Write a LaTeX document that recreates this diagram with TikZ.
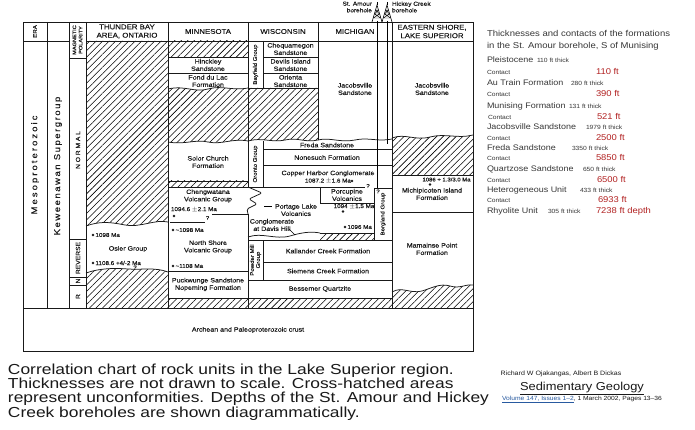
\documentclass[tikz,border=0pt]{standalone}
\usepackage{fontspec}
\setmainfont{Liberation Sans}[FakeStretch=1.12]
\newfontfamily\chfont{Liberation Sans}[FakeStretch=1.12,FakeBold=0.15]
\newfontfamily\capfont{Liberation Sans}[FakeStretch=1.2]
\usetikzlibrary{patterns.meta}
\definecolor{redval}{RGB}{178,34,34}
\definecolor{txtgray}{RGB}{55,55,55}
\definecolor{linkblue}{RGB}{40,90,160}
\definecolor{ink}{RGB}{25,25,25}
\begin{document}
\begin{tikzpicture}[x=1pt,y=-1pt,
  every node/.style={inner sep=0pt, outer sep=0pt, text=ink},
  lbl/.style={font=\chfont\fontsize{6.3}{7.4}\selectfont, align=center},
  dat/.style={font=\chfont\fontsize{5.6}{6}\selectfont, anchor=west},
  hdr/.style={font=\chfont\fontsize{7}{8.4}\selectfont, align=center},
  hatch/.style={pattern={Lines[angle=45,distance=4.6pt,line width=0.55pt]}},
  ln/.style={line width=0.75pt, draw=ink},
  dotm/.style={circle, fill=ink, inner sep=0pt, minimum size=2.6pt},
  rowf/.style={font=\fontsize{8}{9}\selectfont, anchor=base west, text=txtgray},
  small/.style={font=\fontsize{6}{7}\selectfont, anchor=base west, text=txtgray},
  redv/.style={font=\fontsize{8.4}{9}\selectfont, anchor=base west, text=redval},
  capt/.style={font=\capfont\fontsize{14.5}{14.5}\selectfont, anchor=base west},
]
\useasboundingbox (0,0) rectangle (695,430);
\fill[white] (0,0) rectangle (695,430);

% ---------- hatched unconformities ----------
\fill[hatch] (86,41) -- (168,41) -- (168,222) .. controls (155,219) and (140,228) .. (125,225) .. controls (110,222) and (100,221) .. (86,226) -- cycle;
\fill[hatch] (86,273) .. controls (100,268) and (115,268) .. (128,269) .. controls (142,270) and (155,267) .. (168,272) -- (168,308) -- (86,308) -- cycle;
\fill[hatch] (168,41) rectangle (248,57);
\fill[hatch] (168,89) .. controls (185,85) and (195,93) .. (208,89) .. controls (222,85) and (232,91) .. (248,88) -- (248,141) .. controls (232,138) and (222,145) .. (208,142) .. controls (195,139) and (185,145) .. (168,142) -- cycle;
\fill[hatch] (248,88) -- (318,88) -- (318,140) .. controls (305,143) and (298,137) .. (285,140) .. controls (272,143) and (262,137) .. (248,141) -- cycle;
\fill[hatch] (168,181) rectangle (248,187);
\fill[hatch] (320,233) rectangle (374,240);
\fill[hatch] (392,138) .. controls (405,133) and (415,141) .. (430,137) .. controls (445,133) and (458,139) .. (473,135) -- (473,175) -- (392,175) -- cycle;
\fill[hatch] (168,298) rectangle (392,308);
\fill[hatch] (392,292) .. controls (402,286) and (410,294) .. (422,291) .. controls (432,288) and (440,283) .. (450,286) .. controls (460,289) and (465,284) .. (473,285) -- (473,308) -- (392,308) -- cycle;

% ---------- frame and columns ----------
\draw[ln] (23,22) rectangle (473,351);
\draw[ln] (23,41) -- (69,41) (86,41) -- (473,41);
\draw[ln] (69,58) -- (86,58);
\draw[ln] (47,22) -- (47,308) (69,22) -- (69,308) (86,22) -- (86,308) (168,22) -- (168,308);
\draw[ln] (248,22) -- (248,187) (248,214) -- (248,308);
\draw[ln] (318,22) -- (318,140);
\draw[ln] (392,22) -- (392,308);
\draw[ln] (23,308) -- (473,308);
\draw[ln] (69,239) -- (86,239) (69,277) -- (86,277) (69,285) -- (86,285);

% waves
\draw[ln] (86,226) .. controls (100,221) and (110,222) .. (125,225) .. controls (140,228) and (155,219) .. (168,222);
\draw[ln] (86,273) .. controls (100,268) and (115,268) .. (128,269) .. controls (142,270) and (155,267) .. (168,272);
\draw[ln] (168,89) .. controls (185,85) and (195,93) .. (208,89) .. controls (222,85) and (232,91) .. (248,88);
\draw[ln] (168,142) .. controls (185,145) and (195,139) .. (208,142) .. controls (222,145) and (232,138) .. (248,141);
\draw[ln] (248,141) .. controls (262,137) and (272,143) .. (285,140) .. controls (298,137) and (305,143) .. (318,140) .. controls (330,137) and (340,143) .. (355,140) .. controls (368,137) and (378,142) .. (392,139);
\draw[ln] (392,138) .. controls (405,133) and (415,141) .. (430,137) .. controls (445,133) and (458,139) .. (473,135);
\draw[ln] (392,292) .. controls (402,286) and (410,294) .. (422,291) .. controls (432,288) and (440,283) .. (450,286) .. controls (460,289) and (465,284) .. (473,285);
\draw[ln] (248,237) .. controls (262,232) and (275,240) .. (290,236) .. controls (300,233) and (310,231) .. (320,233);
\draw[ln, rounded corners=1.5pt] (248,187) -- (262,193) -- (249,199) -- (257,204) -- (247,209) -- (248,214);

% Minnesota boxes
\draw[ln] (168,57) -- (248,57) (168,73) -- (248,73);
\draw[ln] (168,181) -- (248,181) (168,187) -- (248,187);
\draw[ln] (170,222) -- (205,222) (212,214) -- (248,214);
\draw[ln] (168,271) -- (248,271);
\draw[ln] (168,298) -- (392,298);
% Wisconsin / Michigan boxes
\draw[ln] (263,41) -- (263,88) (263,57) -- (318,57) (263,73) -- (318,73) (248,88) -- (318,88);
\draw[ln] (263,141) -- (263,187) (263,149) -- (392,149) (263,165) -- (392,165) (248,187) -- (365,187);
\draw[ln] (320,187) -- (320,203) -- (374,203);
\draw[ln] (374,188) -- (392,188) (374,188) -- (374,240);
\draw[ln] (320,233) -- (374,233);
\draw[ln] (248,240) -- (392,240) (263,240) -- (263,280) (263,262) -- (392,262) (248,280) -- (392,280);
% Eastern shore
\draw[ln] (392,175) -- (473,175) (392,212) -- (473,212);

% boreholes
\coordinate (sa) at (377,21); \coordinate (sab) at (377,188);
\coordinate (hc) at (387,21); \coordinate (hcb) at (387,144);
\draw[line width=0.9pt] (sa) -- (sab);
\draw[line width=0.9pt] (hc) -- (hcb);
\foreach \cx in {377,387}{
  \draw[line width=0.6pt] (\cx-5,22) -- (\cx,5) -- (\cx+5,22);
  \draw[line width=0.45pt] (\cx-3.8,18) -- (\cx+3.8,18) (\cx-2.6,14) -- (\cx+2.6,14) (\cx-1.5,10) -- (\cx+1.5,10)
     (\cx-3.8,18) -- (\cx+2.6,14) (\cx+3.8,18) -- (\cx-2.6,14) (\cx-2.6,14) -- (\cx+1.5,10) (\cx+2.6,14) -- (\cx-1.5,10);
  \draw[line width=0.5pt] (\cx,5) -- (\cx,2.5);
}
\node[font=\chfont\fontsize{5.8}{6.6}\selectfont, align=right, anchor=east] (tsa) at (372,7) {St. Amour\\borehole};
\node[font=\chfont\fontsize{5.8}{6.6}\selectfont, align=left, anchor=west] (thc) at (392,7) {Hickey Creek\\borehole};

% ---------- headers ----------
\node[font=\chfont\fontsize{5.6}{6}\selectfont, rotate=90] (hera) at (35,31.5) {ERA};
\node[font=\chfont\fontsize{5}{6.2}\selectfont, rotate=90, align=center] (hmag) at (77.5,40) {MAGNETIC\\POLARITY};
\node[hdr] (htb) at (127,31.5) {THUNDER BAY\\AREA, ONTARIO};
\node[hdr] (hmn) at (208,31.5) {MINNESOTA};
\node[hdr] (hwi) at (283,31.5) {WISCONSIN};
\node[hdr] (hmi) at (355,31.5) {MICHIGAN};
\node[hdr] (hes) at (432,31.5) {EASTERN SHORE,\\LAKE SUPERIOR};

% left columns
\node[font=\chfont\fontsize{8.5}{9}\selectfont\addfontfeatures{LetterSpace=24}, rotate=90] (meso) at (35,165) {Mesoproterozoic};
\node[font=\chfont\fontsize{8.5}{9}\selectfont\addfontfeatures{LetterSpace=18}, rotate=90] (kew) at (58,166) {Keweenawan Supergroup};
\node[font=\chfont\fontsize{6}{7}\selectfont\addfontfeatures{LetterSpace=30}, rotate=90] (pnorm) at (78,150) {NORMAL};
\node[font=\chfont\fontsize{6}{7}\selectfont, rotate=90] (prev) at (78,258) {REVERSE};
\node[font=\chfont\fontsize{6}{7}\selectfont, rotate=90] (pn) at (78,281) {N};
\node[font=\chfont\fontsize{6}{7}\selectfont, rotate=90] (pr) at (78,296.5) {R};

% Thunder Bay
\node[dotm] (d1) at (93,235) {};
\node[dat] (t1) at (95.5,235) {1098 Ma};
\node[lbl] (osler) at (128,249) {Osler Group};
\node[dotm] (d2) at (93,263) {};
\node[dat] (t2) at (95.5,263) {1108.6 +4/-2 Ma};
\node[dat, anchor=center] (q1) at (135,267.5) {?};

% Minnesota
\node[lbl] (hinck) at (208,65) {Hinckley\\Sandstone};
\node[lbl] (fdl) at (208,81) {Fond du Lac\\Formation};
\node[lbl] (solor) at (208,162) {Solor Church\\Formation};
\node[lbl] (cheng) at (208,196) {Chengwatana\\Volcanic Group};
\node[dat] (t3) at (171,209.5) {1094.6 $\pm$2.1 Ma};
\node[dotm] (d3) at (174,216) {};
\node[dat, anchor=center] (q2) at (207.5,218) {?};
\node[dotm] (d4) at (173,230) {};
\node[dat] (t4) at (175.5,230) {\textasciitilde1098 Ma};
\node[lbl] (nshore) at (208,247) {North Shore\\Volcanic Group};
\node[dotm] (d5) at (173,266) {};
\node[dat] (t5) at (175.5,266) {\textasciitilde1108 Ma};
\node[lbl] (puck) at (208,284.5) {Puckwunge Sandstone\\Nopeming Formation};

% Wisconsin / Michigan
\node[lbl, rotate=90, font=\chfont\fontsize{5.4}{6}\selectfont] (bay) at (255.5,64.5) {Bayfield Group};
\node[lbl] (cheq) at (290.5,49) {Chequamegon\\Sandstone};
\node[lbl] (devil) at (290.5,65) {Devils Island\\Sandstone};
\node[lbl] (orient) at (290.5,81) {Orienta\\Sandstone};
\node[lbl] (jacm) at (355,89) {Jacobsville\\Sandstone};
\node[lbl, rotate=90, font=\chfont\fontsize{5.4}{6}\selectfont] (oronto) at (255.5,164) {Oronto Group};
\node[lbl] (freda) at (327,145) {Freda Sandstone};
\node[lbl] (nones) at (327,157.5) {Nonesuch Formation};
\node[lbl] (copper) at (328,173.5) {Copper Harbor Conglomerate};
\node[dat] (t6) at (305,181) {1087.2 $\pm$1.6 Ma};
\node[dotm] (d6) at (352,181) {};
\node[dat, anchor=center] (q3) at (368,186) {?};
\node[dat, anchor=center] (q4) at (378,191.5) {?};
\node[lbl] (porc) at (347,195) {Porcupine\\Volcanics};
\node[dat, anchor=center] (t7) at (354,206.5) {1094 $\pm$1.5 Ma};
\node[dotm] (d7) at (343,211.5) {};
\node[lbl, rotate=90, font=\chfont\fontsize{5.4}{6}\selectfont] (berg) at (383,214) {Bergland Group};
\node[lbl] (portage) at (296,210) {Portage Lake\\Volcanics};
\coordinate (pl1) at (264,206.5); \coordinate (pl2) at (272,206.5);
\draw[line width=0.5pt] (pl1) -- (pl2);
\node[lbl] (davis) at (272,225) {Conglomerate\\at Davis Hill};
\coordinate (dh1) at (289,229); \coordinate (dh2) at (295,235);
\draw[line width=0.5pt] (dh1) -- (dh2);
\node[dotm] (d8) at (345,227) {};
\node[dat] (t8) at (347.5,227) {1096 Ma};
\node[lbl, rotate=90, font=\chfont\fontsize{5.4}{6}\selectfont] (powder) at (255.5,260) {Powder Mill\\Group};
\node[lbl] (kall) at (328,251) {Kallander Creek Formation};
\node[lbl] (siem) at (328,271) {Siemens Creek Formation};
\node[lbl] (bess) at (320,289) {Bessemer Quartzite};

% Eastern shore
\node[lbl] (jace) at (432,89) {Jacobsville\\Sandstone};
\node[dat, font=\chfont\fontsize{5.3}{6}\selectfont] (t9) at (422.5,179.5) {1086 + 1.3/3.0 Ma};
\node[dotm] (d9) at (430,184.5) {};
\node[lbl] (mich) at (432,194) {Michipicoten Island\\Formation};
\node[lbl] (mam) at (432,249) {Mamainse Point\\Formation};

% crust
\node[lbl] (crust) at (248,330) {Archean and Paleoproterozoic crust};

% ---------- right panel ----------
\node[font=\fontsize{8.5}{9}\selectfont, anchor=base west, text=txtgray] (ti1) at (487,36.5) {Thicknesses and contacts of the formations};
\node[font=\fontsize{8.5}{9}\selectfont, anchor=base west, text=txtgray] (ti2) at (487,48.5) {in the St. Amour borehole, S of Munising};

\node[rowf] (r1) at (487,63) {Pleistocene};        \node[small] (r1t) at (537,63) {110 ft thick};
\node[small] (c1) at (487,75) {Contact};            \node[redv] (v1) at (596,75) {110 ft};
\node[rowf] (r2) at (487,86) {Au Train Formation}; \node[small] (r2t) at (571,86) {280 ft thick};
\node[small] (c2) at (487,97) {Contact};            \node[redv] (v2) at (596,97) {390 ft};
\node[rowf] (r3) at (487,109) {Munising Formation};\node[small] (r3t) at (569,109) {131 ft thick};
\node[small] (c3) at (488,120) {Contact};           \node[redv] (v3) at (597,120) {521 ft};
\node[rowf] (r4) at (487,130) {Jacobsville Sandstone}; \node[small] (r4t) at (586,130) {1979 ft thick};
\node[small] (c4) at (487,141) {Contact};           \node[redv] (v4) at (596,141) {2500 ft};
\node[rowf] (r5) at (487,151) {Freda Sandstone};    \node[small] (r5t) at (572,151) {3350 ft thick};
\node[small] (c5) at (487,161) {Contact};           \node[redv] (v5) at (596,161) {5850 ft};
\node[rowf] (r6) at (487,172) {Quartzose Sandstone}; \node[small] (r6t) at (583,172) {650 ft thick};
\node[small] (c6) at (487,183) {Contact};           \node[redv] (v6) at (597,183) {6500 ft};
\node[rowf] (r7) at (487,193) {Heterogeneous Unit}; \node[small] (r7t) at (580,193) {433 ft thick};
\node[small] (c7) at (487,203) {Contact};           \node[redv] (v7) at (598,203) {6933 ft};
\node[rowf] (r8) at (487,214) {Rhyolite Unit};      \node[small] (r8t) at (548,214) {305 ft thick};
\node[redv] (v8) at (596,214) {7238 ft depth};

% ---------- caption ----------
\node[capt] (cap1) at (8,374) {Correlation chart of rock units in the Lake Superior region.};
\node[capt] (cap2) at (8,388.3) {Thicknesses are not drawn to scale. Cross-hatched areas};
\node[capt] (cap3) at (8,402.6) {represent unconformities. Depths of the St. Amour and Hickey};
\node[capt] (cap4) at (8,417) {Creek boreholes are shown diagrammatically.};

% ---------- citation ----------
\node[font=\fontsize{6.3}{7}\selectfont, anchor=base] (auth) at (561,375.5) {Richard W Ojakangas, Albert B Dickas};
\node[font=\fontsize{11.5}{12}\selectfont, anchor=base] (journ) at (582,390.5) {\underline{Sedimentary Geology}};
\node[font=\fontsize{6}{7}\selectfont, anchor=base] (vol) at (582,400.5) {\textcolor{linkblue}{\underline{Volume 147, Issues 1--2}}, 1 March 2002, Pages 13--36};
\end{tikzpicture}
\end{document}
